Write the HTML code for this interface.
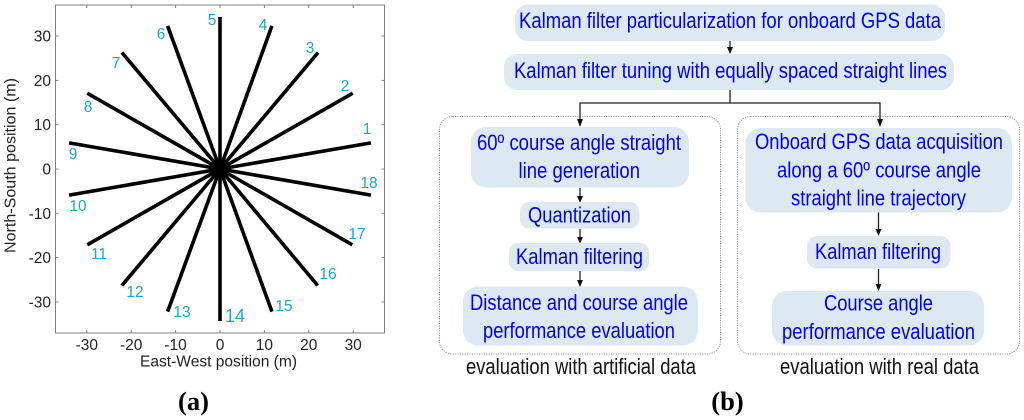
<!DOCTYPE html>
<html lang="en">
<head>
<meta charset="utf-8">
<title>Straight line trajectories and Kalman filter evaluation flowchart</title>
<style>
html,body{margin:0;padding:0;background:#fff;width:1024px;height:420px;overflow:hidden}
svg{display:block;filter:blur(0.35px)}
text{font-family:"Liberation Sans",sans-serif}
.tick{font-size:15.5px;fill:#222}
.num{font-size:15.5px;fill:#1ea3dc}
.flow{font-size:22px;fill:#0000f0;text-anchor:start}
.box{fill:#dce9f3}
.cap{font-size:22px;fill:#111}
.sub{font-family:"Liberation Serif",serif;font-size:26.5px;font-weight:bold;fill:#000}
.conn{stroke:#222;stroke-width:1.3;fill:none}
.head{fill:#111}
.panel{fill:none;stroke:#999;stroke-width:1;stroke-dasharray:1.2 1.2}
</style>
</head>
<body>
<svg id="figure" width="1024" height="420" viewBox="0 0 1024 420" xmlns="http://www.w3.org/2000/svg">
  <g id="chart">
    <rect x="55.5" y="5" width="329" height="328" fill="#fff" stroke="#808080" stroke-width="1"/>
    <g id="ticks"></g>
    <g id="lines"></g>
    <g text-anchor="middle">
      <text class="num" x="367" y="134">1</text>
      <text class="num" x="345" y="91">2</text>
      <text class="num" x="310" y="53">3</text>
      <text class="num" x="263" y="30">4</text>
      <text class="num" x="212" y="25">5</text>
      <text class="num" x="161" y="39">6</text>
      <text class="num" x="116" y="68">7</text>
      <text class="num" x="88" y="112">8</text>
      <text class="num" x="73" y="159">9</text>
      <text class="num" x="78" y="211">10</text>
      <text class="num" x="99" y="259">11</text>
      <text class="num" x="135" y="297">12</text>
      <text class="num" x="182" y="317">13</text>
      <text class="num" x="235" y="322" style="font-size:18px">14</text>
      <text class="num" x="284" y="311">15</text>
      <text class="num" x="328" y="279">16</text>
      <text class="num" x="357" y="239">17</text>
      <text class="num" x="369" y="188">18</text>
    </g>
    <text x="140" y="366.5" font-size="15.5" fill="#222" textLength="157" lengthAdjust="spacingAndGlyphs">East-West position (m)</text>
    <text transform="translate(15.5,253) rotate(-90)" x="0" y="0" font-size="15.5" fill="#222" textLength="175" lengthAdjust="spacingAndGlyphs">North-South position (m)</text>
  </g>
  <text class="sub" x="193.5" y="410" text-anchor="middle">(a)</text>

  <g id="flowchart">
    <rect class="panel" x="439.5" y="116.5" width="281" height="237.5" rx="13"/>
    <rect class="panel" x="737.5" y="116.5" width="282" height="237.5" rx="13"/>

    <path class="conn" d="M730 90V103M580 120V103H880V120"/>
    <path class="conn" d="M730 41V48"/>
    <path class="conn" d="M580 188V197"/>
    <path class="conn" d="M580 229V238"/>
    <path class="conn" d="M580 271V281"/>
    <path class="conn" d="M878.5 212V230"/>
    <path class="conn" d="M878.5 269V285"/>
    <polygon class="head" points="727,47 733,47 730,54"/>
    <polygon class="head" points="577,119 583,119 580,127"/>
    <polygon class="head" points="877,119 883,119 880,127"/>
    <polygon class="head" points="577,196 583,196 580,203"/>
    <polygon class="head" points="577,237 583,237 580,243.5"/>
    <polygon class="head" points="577,280 583,280 580,287"/>
    <polygon class="head" points="875.5,229 881.5,229 878.5,236"/>
    <polygon class="head" points="875.5,284 881.5,284 878.5,291"/>

    <rect class="box" x="515" y="4.5" width="430" height="36.5" rx="13"/>
    <text class="flow" x="519" y="28" textLength="422" lengthAdjust="spacingAndGlyphs">Kalman filter particularization for onboard GPS data</text>
    <rect class="box" x="504" y="54" width="450" height="36" rx="13"/>
    <text class="flow" x="514" y="78" textLength="433" lengthAdjust="spacingAndGlyphs">Kalman filter tuning with equally spaced straight lines</text>

    <rect class="box" x="471" y="127" width="218" height="60.5" rx="15"/>
    <text class="flow" x="477" y="150" textLength="204" lengthAdjust="spacingAndGlyphs">60º course angle straight</text>
    <text class="flow" x="518.5" y="178" textLength="121.5" lengthAdjust="spacingAndGlyphs">line generation</text>
    <rect class="box" x="520" y="202" width="119" height="26.5" rx="9"/>
    <text class="flow" x="528" y="222.5" textLength="103" lengthAdjust="spacingAndGlyphs">Quantization</text>
    <rect class="box" x="509" y="243" width="140" height="28" rx="9"/>
    <text class="flow" x="516" y="264" textLength="127" lengthAdjust="spacingAndGlyphs">Kalman filtering</text>
    <rect class="box" x="463" y="286.5" width="235" height="59" rx="15"/>
    <text class="flow" x="470" y="310" textLength="218" lengthAdjust="spacingAndGlyphs">Distance and course angle</text>
    <text class="flow" x="483" y="338" textLength="192" lengthAdjust="spacingAndGlyphs">performance evaluation</text>
    <text class="cap" x="466" y="374" textLength="230" lengthAdjust="spacingAndGlyphs">evaluation with artificial data</text>

    <rect class="box" x="745.5" y="128" width="266.5" height="84.5" rx="15"/>
    <text class="flow" x="755" y="149" textLength="248" lengthAdjust="spacingAndGlyphs">Onboard GPS data acquisition</text>
    <text class="flow" x="777" y="177.5" textLength="204" lengthAdjust="spacingAndGlyphs">along a 60º course angle</text>
    <text class="flow" x="791" y="205.5" textLength="175" lengthAdjust="spacingAndGlyphs">straight line trajectory</text>
    <rect class="box" x="807" y="236" width="143.5" height="32.5" rx="10"/>
    <text class="flow" x="815" y="259" textLength="126" lengthAdjust="spacingAndGlyphs">Kalman filtering</text>
    <rect class="box" x="772" y="291" width="212" height="54.5" rx="15"/>
    <text class="flow" x="824" y="310.5" textLength="109" lengthAdjust="spacingAndGlyphs">Course angle</text>
    <text class="flow" x="782" y="339" textLength="193" lengthAdjust="spacingAndGlyphs">performance evaluation</text>
    <text class="cap" x="780" y="374" textLength="199" lengthAdjust="spacingAndGlyphs">evaluation with real data</text>
  </g>
  <text class="sub" x="727.5" y="410" text-anchor="middle">(b)</text>
</svg>
<script>
var lineIds = [1,2,3,4,5,6,7,8,9,10,11,12,13,14,15,16,17,18];
var endEast = [34,29.9,22.1,11.7,0,-11.8,-22.1,-29.9,-34,-34,-29.9,-22.1,-11.8,0,11.7,22,29.8,34];
var endNorth = [5.9,17.1,26.3,32.3,34.3,32.3,26.3,17.1,5.9,-5.9,-17.1,-26.3,-32.2,-34.3,-32.2,-26.3,-17.1,-5.9];
var xTicks = [-30,-20,-10,0,10,20,30];
var yTicks = [30,20,10,0,-10,-20,-30];

var NS = 'http://www.w3.org/2000/svg';
function sx(v){ return 220 + v * 4.44; }
function sy(v){ return 169 - v * 4.43; }
function mk(tag, attrs){
  var el = document.createElementNS(NS, tag);
  for (var k in attrs) el.setAttribute(k, attrs[k]);
  return el;
}
var ticksG = document.getElementById('ticks');
var linesG = document.getElementById('lines');
xTicks.forEach(function(v){
  var b = mk('line', {x1:sx(v), x2:sx(v), y1:333, y2:330, stroke:'#808080', 'stroke-width':1});
  
  
  ticksG.appendChild(b);
  var t = mk('line', {x1:sx(v), x2:sx(v), y1:5, y2:8, stroke:'#808080', 'stroke-width':1});
  
  
  ticksG.appendChild(t);
  var lab = mk('text', {x:sx(v), y:350, 'text-anchor':'middle', 'class':'tick'});
  
  
  lab.textContent = v;
  ticksG.appendChild(lab);
});
yTicks.forEach(function(v){
  var l = mk('line', {x1:55.5, x2:58.5, y1:sy(v), y2:sy(v), stroke:'#808080', 'stroke-width':1});
  
  
  ticksG.appendChild(l);
  var r = mk('line', {x1:384.5, x2:381.5, y1:sy(v), y2:sy(v), stroke:'#808080', 'stroke-width':1});
  
  
  ticksG.appendChild(r);
  var lab = mk('text', {x:51, y:sy(v)+5.5, 'text-anchor':'end', 'class':'tick'});
  
  
  lab.textContent = v;
  ticksG.appendChild(lab);
});
lineIds.forEach(function(id, i){
  var ln = mk('line', {x1:sx(0), y1:sy(0), x2:sx(endEast[i]), y2:sy(endNorth[i]), stroke:'#000', 'stroke-width':3.6});
  
  
  linesG.appendChild(ln);
});
</script>
</body>
</html>
